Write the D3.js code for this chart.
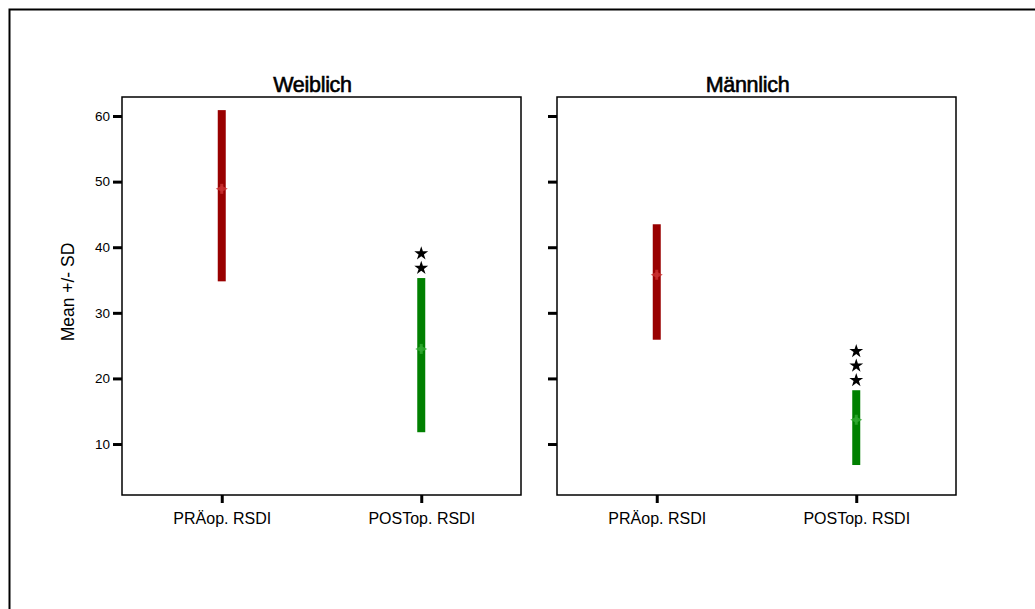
<!DOCTYPE html>
<html>
<head>
<meta charset="utf-8">
<script src="https://cdn.jsdelivr.net/npm/d3@7"></script>
<style>
  html, body { margin: 0; padding: 0; background: #fff; }
  svg { display: block; font-family: "Liberation Sans", Arial, sans-serif; }
</style>
</head>
<body>
<svg id="chart" width="1035" height="609"></svg>
<script>
// Panels (sex) and measurement categories
const panels = ["Weiblich", "Männlich"];
const categories = ["PRÄop. RSDI", "POSTop. RSDI"];
const yTicks = [10, 20, 30, 40, 50, 60];

// Mean and error-bar ends (Mean +/- SD), per panel, per category
const means = [[48.9, 24.5], [35.8, 13.7]];
const lows  = [[34.8, 11.8], [25.9, 6.8]];
const highs = [[60.9, 35.3], [43.5, 18.2]];
// Significance markers above the POST bars
const stars = [[0, 2], [0, 3]];

const barColors = ["#990000", "#008000"];
const markColors = ["#c83030", "#30a830"];

const svg = d3.select("#chart");

// outer frame
svg.append("rect")
  .attr("x", 9.5).attr("y", 9.5)
  .attr("width", 1040).attr("height", 620)
  .attr("fill", "none").attr("stroke", "#000").attr("stroke-width", 2);

const panelX = [122, 557];
const panelW = 399;
const plotTop = 97, plotBottom = 495;

const y = d3.scaleLinear().domain([2.23, 62.9]).range([plotBottom, plotTop]);

const starPath = d3.symbol().type(d3.symbolStar).size(60)();

panels.forEach((name, p) => {
  const x0 = panelX[p];
  const x = d3.scalePoint().domain(categories).range([x0, x0 + panelW]).padding(0.5);
  const g = svg.append("g");

  // title, set a little left of the panel centre
  g.append("text")
    .attr("x", x0 + panelW / 2 - 9).attr("y", 92)
    .attr("text-anchor", "middle")
    .attr("font-size", 21.5).attr("fill", "#000")
    .attr("stroke", "#000").attr("stroke-width", 0.6)
    .style("letter-spacing", "-0.3px")
    .text(name);

  // panel border
  g.append("rect")
    .attr("x", x0).attr("y", plotTop)
    .attr("width", panelW).attr("height", plotBottom - plotTop)
    .attr("fill", "none").attr("stroke", "#000").attr("stroke-width", 1.5);

  // y axis ticks
  const yAxis = d3.axisLeft(y).tickValues(yTicks).tickSize(9).tickPadding(3)
    .tickFormat(p === 0 ? d3.format("d") : () => "");
  const ya = g.append("g").attr("transform", `translate(${x0},0)`).call(yAxis);
  ya.select(".domain").remove();
  ya.selectAll(".tick line").attr("stroke", "#000").attr("stroke-width", 3);
  ya.selectAll(".tick text").attr("font-size", 13.5).attr("fill", "#000")
    .attr("font-family", "Liberation Sans, Arial, sans-serif");

  // x axis ticks
  const xAxis = d3.axisBottom(x).tickSize(8).tickPadding(10);
  const xa = g.append("g").attr("transform", `translate(0,${plotBottom})`).call(xAxis);
  xa.select(".domain").remove();
  xa.selectAll(".tick line").attr("stroke", "#000").attr("stroke-width", 3);
  xa.selectAll(".tick text").attr("font-size", 16).attr("fill", "#000")
    .attr("font-family", "Liberation Sans, Arial, sans-serif");

  categories.forEach((c, i) => {
    const cx = x(c);
    // SD bar
    g.append("rect")
      .attr("x", cx - 4).attr("width", 8)
      .attr("y", y(highs[p][i]))
      .attr("height", y(lows[p][i]) - y(highs[p][i]))
      .attr("fill", barColors[i]);
    // mean marker
    const my = y(means[p][i]);
    g.append("path")
      .attr("d", `M${cx - 6},${my} L${cx},${my - 3} L${cx + 6},${my} L${cx},${my + 3} Z`)
      .attr("fill", markColors[i]).attr("opacity", 0.85);
    g.append("rect")
      .attr("x", cx - 1.5).attr("width", 3)
      .attr("y", my - 5).attr("height", 10)
      .attr("fill", markColors[i]).attr("opacity", 0.85);
    // significance stars
    const n = stars[p][i];
    for (let k = 0; k < n; k++) {
      g.append("path")
        .attr("d", starPath)
        .attr("transform", `translate(${cx},${y(highs[p][i]) - 10 - k * 14.5})`)
        .attr("fill", "#000");
    }
  });
});

// y axis title
svg.append("text")
  .attr("transform", `translate(74,${(plotTop + plotBottom) / 2 - 4}) rotate(-90)`)
  .attr("text-anchor", "middle")
  .attr("font-size", 17.5).attr("fill", "#000")
  .text("Mean +/- SD");
</script>
</body>
</html>
